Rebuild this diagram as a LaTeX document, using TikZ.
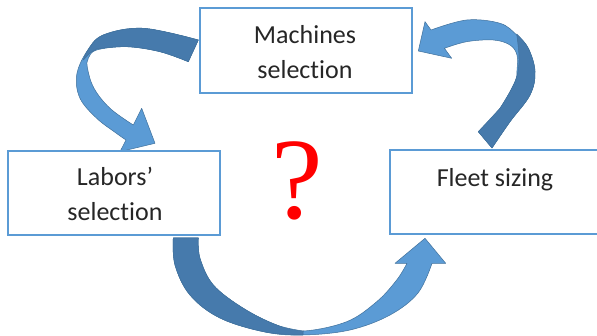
\documentclass[tikz,border=0pt]{standalone}
\usepackage{fontspec}
\setmainfont[Ligatures=NoCommon]{Carlito}
\newfontfamily\qfont{Liberation Serif}
\usetikzlibrary{backgrounds}
\definecolor{boxblue}{RGB}{91,155,213}
\definecolor{arrowlight}{RGB}{91,155,213}
\definecolor{arrowdark}{RGB}{70,122,172}
\definecolor{arrowedge}{RGB}{65,113,156}
\begin{document}
\begin{tikzpicture}[x=1pt,y=-1pt,
  stagebox/.style={draw=boxblue, line width=2pt, fill=white, inner sep=0pt},
  lbl/.style={font=\fontsize{26}{35}\selectfont, text=black!85, align=center, inner sep=0pt},
  lightpart/.style={fill=arrowlight, draw=arrowedge, line width=0.5pt, line join=round},
  darkpart/.style={fill=arrowdark, draw=arrowedge, line width=0.5pt, line join=round},
  curve/.style={smooth, tension=0.6}]
\useasboundingbox (0,0) rectangle (597,336);

% the three stage boxes
\node[stagebox, minimum width=212pt, minimum height=85pt] (mach) at (306,50.5) {};
\node[stagebox, minimum width=212pt, minimum height=84pt] (labor) at (114,193) {};
\node[stagebox, minimum width=215pt, minimum height=84pt] (fleet) at (497.5,192) {};

% their labels (base anchor sits on the last line)
\node[lbl, anchor=base] (machtxt) at (305,79) {Machines\\selection};
\node[lbl, anchor=base] (labortxt) at (115,221) {Labors’\\selection};
\node[lbl, anchor=base] (fleettxt) at (495,186.7) {Fleet sizing};

% the open question in the middle
\node[text=red, font=\qfont\fontsize{116}{116}\selectfont, inner sep=0pt, anchor=base] (q) at (297,219) {?};

\begin{scope}[on background layer]
% machines -> labors
\filldraw[lightpart] plot[curve] coordinates {(198.3,40) (143.3,28.3) (103.3,35) (86.7,51.7) (76.7,75) (80,98.3) (96.7,118.3) (116,133) (126,140)}
  -- (120,151.7) -- (155,143.3) -- (141.7,108.3)
  -- plot[curve] coordinates {(133.3,125) (110,108.3) (94,88.3) (87.5,68.3) (88.3,58.3) (96.7,50) (126.7,46.7) (160,51.7) (188.3,61.7)} -- cycle;
\filldraw[darkpart] plot[curve] coordinates {(198.3,40) (143.3,28.3) (103.3,35) (88,50) (83.3,60)}
  -- (90,53) -- plot[curve] coordinates {(96.7,49) (126.7,46.7) (160,51.7) (188.3,61.7)} -- cycle;

% fleet -> machines
\filldraw[lightpart] plot[curve] coordinates {(492,148) (510,121.7) (530,95) (535,71.7) (528.3,48.3) (516.7,35) (500,23.3) (466.7,20) (431,30)}
  -- (425,21.7) -- (418.3,51) -- (451.7,58.3)
  -- plot[curve] coordinates {(444.4,48.3) (466.7,41.7) (493.3,40) (510,45) (517,55) (517,70) (515,81.7) (500,108.3) (478.3,131.7)} -- cycle;
\filldraw[darkpart] plot[curve] coordinates {(516.7,34) (528.3,48.3) (535,71.7) (530,95) (510,121.7) (492,148)}
  -- (478.3,131.7) -- plot[curve] coordinates {(500,108.3) (515,81.7) (519,60) (516.7,34)} -- cycle;

% labors -> fleet
\filldraw[lightpart] plot[curve] coordinates {(173.3,238) (175,265) (190,295) (220,318) (265,332) (303,335) (350,330) (390,315) (418,293) (432,263.3)}
  -- (445.7,263.3) -- (425,238.3) -- (395,263.3)
  -- plot[curve] coordinates {(407,263.3) (396.7,280) (376.7,301.7) (346.7,321.7) (303.3,331) (276.7,325) (243.3,308.3) (213.3,285) (200,258.3) (198.3,238)} -- cycle;
\filldraw[darkpart] plot[curve] coordinates {(173.3,238) (175,265) (190,295) (220,318) (265,332) (303,335)}
  -- plot[curve] coordinates {(303.3,331) (276.7,325) (243.3,308.3) (213.3,285) (200,258.3) (198.3,238)} -- cycle;
\end{scope}
\end{tikzpicture}
\end{document}
